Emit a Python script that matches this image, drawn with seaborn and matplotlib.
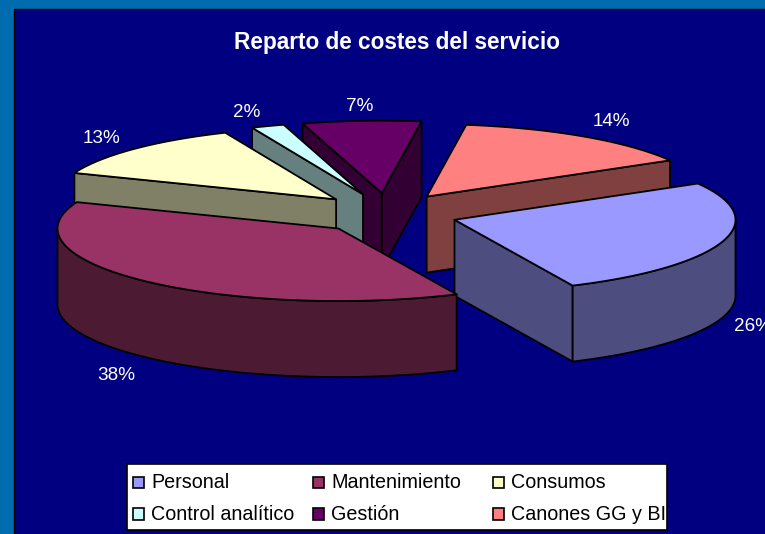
import numpy as np
import matplotlib
matplotlib.use('Agg')
import matplotlib.pyplot as plt
from matplotlib.patches import Rectangle
import seaborn as sns

# Data
categories = ['Personal', 'Mantenimiento', 'Consumos', 'Control analítico', 'Gestión', 'Canones GG y BI']
values = [26.4, 37.8, 12.6, 1.9, 6.8, 14.4]
top_colors = ['#9999FF', '#993366', '#FFFFCC', '#CCFFFF', '#660066', '#FF8080']
title = 'Reparto de costes del servicio'

sns.set_theme(style='white')
plt.rcParams['font.family'] = ['Liberation Sans', 'DejaVu Sans']

palette = sns.color_palette(top_colors)
side_colors = [tuple(c * 0.5 for c in col) for col in palette]

# Pie geometry, in pixels of the picture
cx, cy = 387, 213.6
rx, ry = 281, 72.5
explode_x, explode_y = 70.8, 20.5
depth = 76
start_angle = 30
# label shift from the rim point of each slice
label_shift = [(31, 9), (-30, 18), (-33, -10), (-21, -14), (-2, -14), (27, -15)]

fig = plt.figure(figsize=(7.65, 5.34), dpi=100, facecolor='#006CB0')
ax = fig.add_axes([0, 0, 1, 1])
ax.set_xlim(0, 765)
ax.set_ylim(534, 0)
ax.axis('off')

ax.add_patch(Rectangle((14, 9), 760, 540, facecolor='#000080', edgecolor='black', lw=1))


def rim(t, ox, oy, drop=0):
    return ox + rx * np.cos(t), oy - ry * np.sin(t) + drop


def draw_face(xs, ys, color):
    ax.fill(xs, ys, facecolor=color, edgecolor='black', lw=1.3, joinstyle='round')


# slice angles run clockwise from the start angle
shares = np.array(values) / sum(values) * 2 * np.pi
ends = np.radians(start_angle) - np.cumsum(shares)
starts = ends + shares
mids = (starts + ends) / 2

# paint the back slices first
for i in np.argsort(-np.sin(mids)):
    t0, t1 = starts[i], ends[i]
    ox = cx + explode_x * np.cos(mids[i])
    oy = cy - explode_y * np.sin(mids[i])

    # cut faces, only when they look towards the viewer
    for t, seen in ((t0, np.cos(t0) < 0), (t1, np.cos(t1) > 0)):
        if seen:
            x, y = rim(t, ox, oy)
            draw_face([ox, x, x, ox], [oy, y, y + depth, oy + depth], side_colors[i])

    # outer wall, lower half of the ellipse only
    ts = np.linspace(t0, t1, 160)
    low = ts[np.sin(ts) < 0]
    if len(low) > 1:
        x, y = rim(low, ox, oy)
        draw_face(np.r_[x, x[::-1]], np.r_[y, y[::-1] + depth], side_colors[i])

    # top surface
    x, y = rim(ts, ox, oy)
    draw_face(np.r_[ox, x], np.r_[oy, y], palette[i])

    # percent label
    x, y = rim(mids[i], ox, oy, depth if np.sin(mids[i]) < 0 else 0)
    ax.text(x + label_shift[i][0], y + label_shift[i][1], f'{values[i]:.0f}%',
            color='white', fontsize=13.6, ha='center', va='center')

ax.text(397, 42, title, color='white', fontsize=16.3, fontweight='bold', ha='center', va='center')

# legend box
ax.add_patch(Rectangle((127, 464), 540, 66, facecolor='white', edgecolor='black', lw=1.2))
for i, name in enumerate(categories):
    col, row = i % 3, i // 3
    x = 133 + col * 180
    y = 482 + row * 31.5
    ax.add_patch(Rectangle((x, y - 5.5), 11.5, 11.5, facecolor=palette[i], edgecolor='black', lw=1.2))
    ax.text(x + 18, y + 1, name, color='black', fontsize=14.2, ha='left', va='center')

fig.savefig('out.png', dpi=100, facecolor=fig.get_facecolor())
